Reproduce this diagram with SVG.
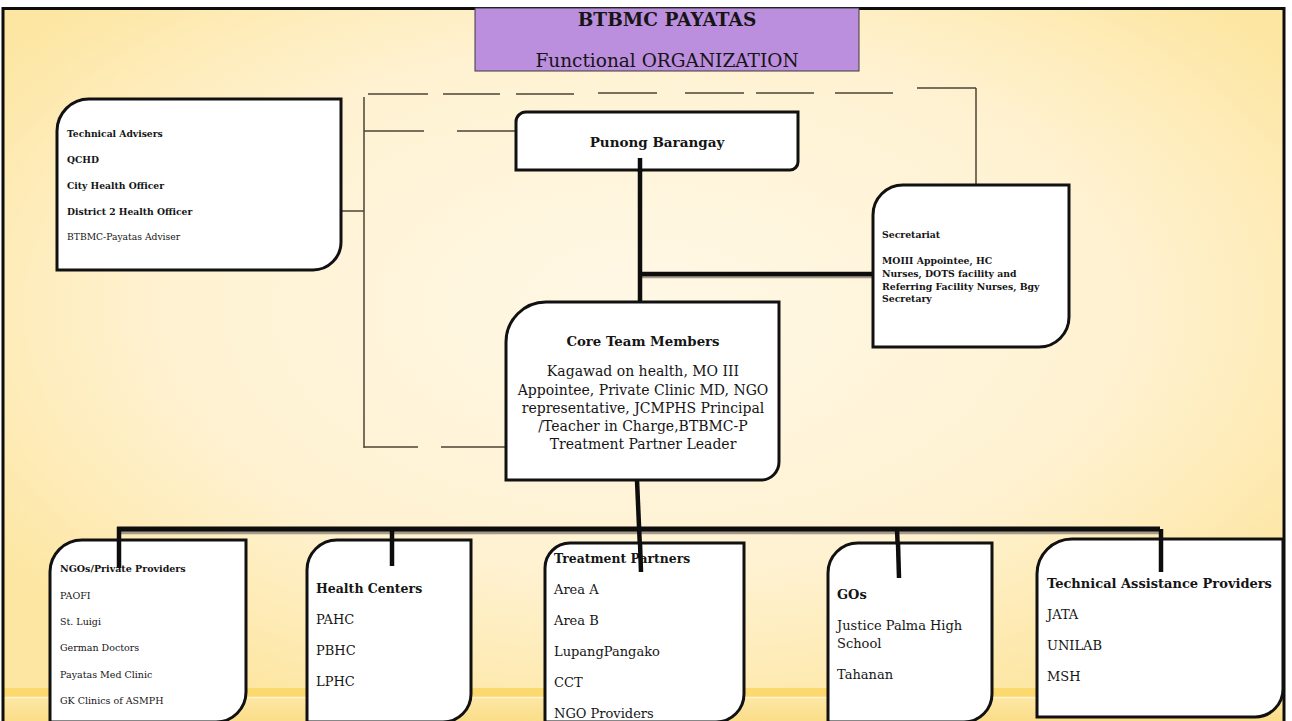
<svg xmlns="http://www.w3.org/2000/svg" width="1292" height="721" viewBox="0 0 1292 721">
<defs>
<radialGradient id="bg" cx="0.5" cy="0.42" r="0.62">
<stop offset="0" stop-color="#fff8e6"/>
<stop offset="0.6" stop-color="#fff2d2"/>
<stop offset="1" stop-color="#fde6a2"/>
</radialGradient>
<linearGradient id="band" x1="0" y1="0" x2="0" y2="1">
<stop offset="0" stop-color="#fde7a6"/>
<stop offset="1" stop-color="#fbdd88"/>
</linearGradient>
<style>
text{font-family:"DejaVu Serif","Liberation Serif",serif;fill:#151515}
.b{font-weight:bold}
.box{fill:#ffffff;stroke:#111;stroke-width:3}
.thin{stroke:#4b4336;stroke-width:1.5;fill:none}
.thick{stroke:#0d0d0d;stroke-width:4.5;fill:none}
.shadow{stroke:#a49a88;stroke-width:4.5;fill:none}
.s9{font-size:9.2px}
.s95{font-size:9.5px}
.s13{font-size:13px}
.s14{font-size:14px}
</style>
</defs>
<rect x="0" y="0" width="1292" height="721" fill="#ffffff"/>
<rect x="4" y="9" width="1280" height="712" fill="url(#bg)"/>
<rect x="4" y="688" width="1280" height="9" fill="#fcd96e"/>
<rect x="4" y="698" width="1280" height="23" fill="url(#band)"/>
<line x1="4" y1="697.5" x2="1284" y2="697.5" stroke="#fff3cf" stroke-width="1.5"/>
<path d="M3,721 V8.5 H1284 V721" fill="none" stroke="#0d0d0d" stroke-width="3"/>

<g id="title">
<rect x="475" y="8" width="384" height="63" fill="#bb8fdd" stroke="#3a3a3a" stroke-width="1"/>
<text x="667" y="26" text-anchor="middle" class="b" font-size="18.5">BTBMC PAYATAS</text>
<text x="667" y="67" text-anchor="middle" font-size="18.5">Functional ORGANIZATION</text>
</g>

<g id="connectors">
<g class="thin">
<line x1="341" y1="211" x2="364" y2="211"/>
<line x1="364" y1="97" x2="364" y2="448"/>
<line x1="368" y1="94" x2="428" y2="94"/>
<line x1="443" y1="94" x2="500" y2="94"/>
<line x1="516" y1="94" x2="574" y2="94"/>
<line x1="598" y1="93" x2="657" y2="93"/>
<line x1="685" y1="93" x2="744" y2="93"/>
<line x1="756" y1="93" x2="814" y2="93"/>
<line x1="835" y1="93" x2="893" y2="93"/>
<line x1="917" y1="88" x2="976" y2="88"/>
<line x1="976" y1="88" x2="976" y2="186"/>
<line x1="364" y1="131" x2="424" y2="131"/>
<line x1="457" y1="131" x2="516" y2="131"/>
<line x1="364" y1="447" x2="418" y2="447"/>
<line x1="441" y1="447" x2="505" y2="447"/>
</g>
<g class="shadow">
<line x1="642" y1="276" x2="873" y2="276"/>
<line x1="119" y1="532" x2="1160" y2="532"/>
</g>
<g class="thick">
<line x1="640" y1="158" x2="640" y2="303"/>
<line x1="640" y1="274" x2="873" y2="274"/>
<line x1="637" y1="480" x2="641" y2="572"/>
<line x1="117" y1="529" x2="1160" y2="529" stroke-width="5"/>
<line x1="119" y1="527" x2="119" y2="568"/>
<line x1="392" y1="527" x2="392" y2="566"/>
<line x1="897" y1="529" x2="899" y2="578"/>
<line x1="1161" y1="529" x2="1161" y2="572"/>
</g>
</g>

<g id="advisers">
<path class="box" d="M89,99 H341 V242 A28,28 0 0 1 313,270 H57 V131 A32,32 0 0 1 89,99 Z"/>
<text x="67" y="137" class="b s9">Technical Advisers</text>
<text x="67" y="163" class="b s9">QCHD</text>
<text x="67" y="189" class="b s9">City Health Officer</text>
<text x="67" y="215" class="b s9">District 2 Health Officer</text>
<text x="67" y="240" class="s9">BTBMC-Payatas Adviser</text>
</g>

<g id="punong">
<path class="box" d="M526,112 H798 V162 A8,8 0 0 1 790,170 H516 V122 A10,10 0 0 1 526,112 Z"/>
<text x="657" y="147" text-anchor="middle" class="b" font-size="13.5">Punong Barangay</text>
</g>
<line x1="640" y1="158" x2="640" y2="172" stroke="#0d0d0d" stroke-width="4.5"/>

<g id="secretariat">
<path class="box" d="M903,185 H1069 V317 A30,30 0 0 1 1039,347 H873 V215 A30,30 0 0 1 903,185 Z"/>
<text x="882" y="238" class="b" font-size="9.3">Secretariat</text>
<text x="882" y="264" class="b" font-size="9.3">MOIII Appointee, HC</text>
<text x="882" y="277" class="b" font-size="9.3">Nurses, DOTS facility and</text>
<text x="882" y="290" class="b" font-size="9.3">Referring Facility Nurses, Bgy</text>
<text x="882" y="302" class="b" font-size="9.3">Secretary</text>
</g>

<g id="core">
<path class="box" d="M546,302 H779 V462 A18,18 0 0 1 761,480 H506 V342 A40,40 0 0 1 546,302 Z"/>
<text x="643" y="346" text-anchor="middle" class="b" font-size="13.3">Core Team Members</text>
<text x="643" y="376" text-anchor="middle" class="s14">Kagawad on health, MO III</text>
<text x="643" y="395" text-anchor="middle" class="s14">Appointee, Private Clinic MD, NGO</text>
<text x="643" y="413" text-anchor="middle" class="s14">representative, JCMPHS Principal</text>
<text x="643" y="431" text-anchor="middle" class="s14">/Teacher in Charge,BTBMC-P</text>
<text x="643" y="449" text-anchor="middle" class="s14">Treatment Partner Leader</text>
</g>

<g id="ngos">
<path class="box" d="M82,540 H246 V692 A30,30 0 0 1 216,722 H50 V572 A32,32 0 0 1 82,540 Z"/>
<text x="60" y="572" class="b s95">NGOs/Private Providers</text>
<text x="60" y="598.5" class="s95">PAOFI</text>
<text x="60" y="625" class="s95">St. Luigi</text>
<text x="60" y="650.5" class="s95">German Doctors</text>
<text x="60" y="677.5" class="s95">Payatas Med Clinic</text>
<text x="60" y="703.5" class="s95">GK Clinics of ASMPH</text>
</g>
<line x1="119" y1="540" x2="119" y2="568" stroke="#0d0d0d" stroke-width="4.5"/>

<g id="health-centers">
<path class="box" d="M337,540 H471 V694 A28,28 0 0 1 443,722 H307 V570 A30,30 0 0 1 337,540 Z"/>
<text x="316" y="592.5" class="b" font-size="12.5">Health Centers</text>
<text x="316" y="624" class="s13">PAHC</text>
<text x="316" y="655" class="s13">PBHC</text>
<text x="316" y="686" class="s13">LPHC</text>
</g>
<line x1="392" y1="540" x2="392" y2="566" stroke="#0d0d0d" stroke-width="4.5"/>

<g id="treatment-partners">
<path class="box" d="M570,543 H744 V694 A28,28 0 0 1 716,722 H545 V568 A25,25 0 0 1 570,543 Z"/>
<text x="554" y="562.5" class="b" font-size="12.4">Treatment Partners</text>
<text x="554" y="594" class="s13">Area A</text>
<text x="554" y="625" class="s13">Area B</text>
<text x="554" y="656" class="s13">LupangPangako</text>
<text x="554" y="687" class="s13">CCT</text>
<text x="554" y="717.5" class="s13">NGO Providers</text>
</g>
<line x1="640" y1="543" x2="641" y2="572" stroke="#0d0d0d" stroke-width="4.5"/>

<g id="gos">
<path class="box" d="M858,543 H992 V694 A28,28 0 0 1 964,722 H828 V573 A30,30 0 0 1 858,543 Z"/>
<text x="837" y="598.5" class="b s13">GOs</text>
<text x="837" y="630" class="s13">Justice Palma High</text>
<text x="837" y="648" class="s13">School</text>
<text x="837" y="679" class="s13">Tahanan</text>
</g>
<line x1="898" y1="543" x2="899" y2="578" stroke="#0d0d0d" stroke-width="4.5"/>

<g id="technical-assistance">
<path class="box" d="M1072,539 H1283 V689 A28,28 0 0 1 1255,717 H1037 V574 A35,35 0 0 1 1072,539 Z"/>
<text x="1047" y="588" class="b s13">Technical Assistance Providers</text>
<text x="1047" y="619" class="s13">JATA</text>
<text x="1047" y="650" class="s13">UNILAB</text>
<text x="1047" y="680.5" class="s13">MSH</text>
</g>
<line x1="1161" y1="539" x2="1161" y2="572" stroke="#0d0d0d" stroke-width="4.5"/>
</svg>
